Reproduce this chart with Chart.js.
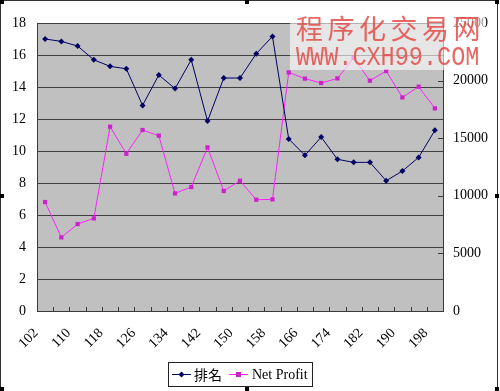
<!DOCTYPE html>
<html><head><meta charset="utf-8">
<script src="https://cdn.jsdelivr.net/npm/chart.js@4/dist/chart.umd.min.js"></script>
<style>
html,body{margin:0;padding:0;background:#fff;}
#wrap{position:relative;width:500px;height:391px;overflow:hidden;}
canvas{position:absolute;left:0;top:0;}
#wm{position:absolute;left:290px;top:8px;width:195px;height:62px;background:rgba(255,255,255,0.6);}
#wm1{position:absolute;left:296px;top:11px;font-family:"Noto Sans CJK SC";font-size:27px;letter-spacing:4.5px;color:rgba(228,70,64,0.82);white-space:nowrap;line-height:34px;}
#wm2{position:absolute;left:296px;top:45px;font-family:"Liberation Mono";font-size:23.5px;color:rgba(228,70,64,0.82);white-space:nowrap;line-height:22px;transform:scaleY(1.2);transform-origin:0 0;}
</style></head>
<body><div id="wrap"><canvas id="c" width="500" height="391"></canvas>
<div id="wm"></div><div id="wm1">程序化交易网</div><div id="wm2">WWW.CXH99.COM</div></div>
<script>
const categories = [102,106,110,114,118,122,126,130,134,138,142,146,150,154,158,162,166,170,174,178,182,186,190,194,198];
const rankValues = [17.0,16.85,16.56,15.7,15.29,15.14,12.85,14.75,13.9,15.7,11.87,14.56,14.56,16.08,17.16,10.75,9.73,10.87,9.48,9.29,9.29,8.14,8.75,9.6,11.29];
const profitValues = [9460,6390,7550,8040,16000,13650,15710,15220,10210,10760,14200,10420,11310,9660,9690,20710,20170,19790,20190,21960,19990,20830,18540,19470,17590];
const seriesNames = ['排名','Net Profit'];
const leftTicks = {min:0,max:18,step:2};
const rightTicks = {min:0,max:25000,step:5000};

const serif = 'Liberation Serif';
const axisCol = '#3a3a3a';

const extras = {
  id:'extras',
  beforeDraw(chart){
    const {ctx, chartArea:a} = chart;
    ctx.save();
    ctx.fillStyle = '#c0c0c0';
    ctx.fillRect(a.left, a.top, a.right-a.left, a.bottom-a.top);
    ctx.restore();
  },
  afterDraw(chart){
    const {ctx, chartArea:a} = chart;
    const xs = chart.scales.x, y1 = chart.scales.y1;
    ctx.save();
    ctx.strokeStyle = axisCol; ctx.lineWidth = 1;
    for (let i=1;i<categories.length;i++){
      const px = Math.round((xs.getPixelForValue(i-1)+xs.getPixelForValue(i))/2)+0.5;
      ctx.beginPath(); ctx.moveTo(px, a.bottom); ctx.lineTo(px, a.bottom-4); ctx.stroke();
    }
    for (let v=rightTicks.min; v<=rightTicks.max; v+=rightTicks.step){
      const py = Math.round(y1.getPixelForValue(v))+0.5;
      ctx.beginPath(); ctx.moveTo(a.right, py); ctx.lineTo(a.right-5, py); ctx.stroke();
    }
    const lx=168.5, ly=362.5, lw=144, lh=24;
    ctx.fillStyle='#fff'; ctx.fillRect(lx,ly,lw,lh);
    ctx.strokeStyle='#222'; ctx.strokeRect(lx,ly,lw,lh);
    const cy = ly+12;
    const ds = chart.data.datasets;
    ctx.strokeStyle = ds[0].borderColor; ctx.beginPath(); ctx.moveTo(172,cy); ctx.lineTo(191,cy); ctx.stroke();
    ctx.fillStyle = ds[0].borderColor;
    ctx.beginPath(); ctx.moveTo(181.5,cy-3); ctx.lineTo(184.5,cy); ctx.lineTo(181.5,cy+3); ctx.lineTo(178.5,cy); ctx.closePath(); ctx.fill();
    ctx.fillStyle='#000'; ctx.textBaseline='middle'; ctx.textAlign='left';
    ctx.font = '14px "Noto Sans CJK TC"';
    ctx.fillText(seriesNames[0], 194, cy);
    ctx.strokeStyle = ds[1].borderColor; ctx.beginPath(); ctx.moveTo(229,cy); ctx.lineTo(248,cy); ctx.stroke();
    ctx.fillStyle = ds[1].backgroundColor; ctx.fillRect(236,cy-2.5,5,5);
    ctx.fillStyle='#000'; ctx.font = '14px "'+serif+'"';
    ctx.fillText(seriesNames[1], 252, cy+1);
    ctx.strokeStyle='#333';
    ctx.beginPath(); ctx.moveTo(0,0.5); ctx.lineTo(497,0.5); ctx.stroke();
    ctx.beginPath(); ctx.moveTo(0.5,0); ctx.lineTo(0.5,391); ctx.stroke();
    ctx.beginPath(); ctx.moveTo(497.5,0); ctx.lineTo(497.5,391); ctx.stroke();
    ctx.fillStyle='#000';
    [[0,0],[245,0],[495,0],[0,194],[495,194],[0,387],[245,387],[495,387]].forEach(p=>ctx.fillRect(p[0],p[1],4,4));
    ctx.restore();
  }
};

new Chart(document.getElementById('c'), {
  type:'line',
  data:{
    labels: categories,
    datasets:[
      {label:seriesNames[0], data:rankValues, yAxisID:'y', borderColor:'#000066', backgroundColor:'#000066',
       borderWidth:1, pointStyle:'rectRot', pointRadius:3, pointBorderWidth:0, tension:0},
      {label:seriesNames[1], data:profitValues, yAxisID:'y1', borderColor:'#ff22ff', backgroundColor:'#cc22cc',
       borderWidth:1, pointStyle:'rect', pointRadius:3, pointBorderWidth:0, tension:0}
    ]
  },
  options:{
    responsive:false, animation:false, devicePixelRatio:1,
    layout:{padding:{top:23,left:0,right:0,bottom:0}},
    plugins:{legend:{display:false}, tooltip:{enabled:false}},
    scales:{
      x:{
        type:'category', offset:true,
        grid:{display:false},
        border:{display:true,color:axisCol},
        ticks:{autoSkip:false, maxRotation:45, minRotation:45, padding:6, labelOffset:-9,
          color:'#000', font:{family:serif,size:14},
          callback:(v,i)=> i%2===0 ? String(categories[i]) : ''},
        afterFit:(s)=>{s.height=80;}
      },
      y:{
        position:'left', min:leftTicks.min, max:leftTicks.max,
        ticks:{stepSize:leftTicks.step, color:'#000', font:{family:serif,size:14}, padding:11},
        grid:{color:'#404040', drawTicks:false},
        border:{display:true,color:axisCol},
        afterFit:(s)=>{s.width=37;}
      },
      y1:{
        position:'right', min:rightTicks.min, max:rightTicks.max,
        ticks:{stepSize:rightTicks.step, color:'#000', font:{family:serif,size:14}, padding:10,
          callback:(v)=>String(v)},
        grid:{drawOnChartArea:false, drawTicks:false},
        border:{display:true,color:axisCol},
        afterFit:(s)=>{s.width=57;}
      }
    }
  },
  plugins:[extras]
});
</script></body></html>
